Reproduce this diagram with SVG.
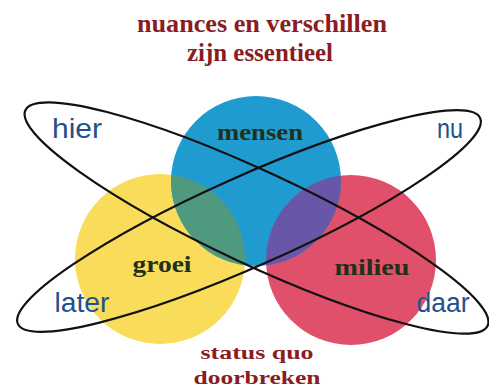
<svg xmlns="http://www.w3.org/2000/svg" width="489" height="388" viewBox="0 0 489 388">
<style>
.title{font-family:"Liberation Serif",serif;font-weight:bold;font-size:25px;fill:#8a1c22;text-anchor:middle}
.sub{font-family:"Liberation Serif",serif;font-weight:bold;font-size:19px;fill:#8a1c22;text-anchor:middle}
.clabel{font-family:"Liberation Serif",serif;font-weight:bold;font-size:24px;fill:#22301a;text-anchor:middle}
.llabel{font-family:"Liberation Sans",sans-serif;font-size:27px;fill:#23508c;text-anchor:middle}
.loop{fill:none;stroke:#111;stroke-width:2.2}
</style>
<defs>
<clipPath id="clipYellow"><circle cx="160" cy="259" r="85"/></clipPath>
<clipPath id="clipRed"><circle cx="351" cy="260" r="85"/></clipPath>
</defs>
<rect width="489" height="388" fill="#ffffff"/>
<g id="title">
<text class="title" x="262" y="32" textLength="250" lengthAdjust="spacingAndGlyphs">nuances en verschillen</text>
<text class="title" x="260" y="61" textLength="146" lengthAdjust="spacingAndGlyphs">zijn essentieel</text>
</g>
<g id="groei">
<circle cx="160" cy="259" r="85" fill="#f8dc5a"/>
</g>
<g id="milieu">
<circle cx="351" cy="260" r="85" fill="#e1506a"/>
</g>
<g id="mensen">
<circle cx="256" cy="181" r="85" fill="#1f9bd0"/>
<circle cx="256" cy="181" r="85" fill="#4f9a7e" clip-path="url(#clipYellow)"/>
<circle cx="256" cy="181" r="85" fill="#6a56a8" clip-path="url(#clipRed)"/>
</g>
<g id="connectors">
<ellipse id="loop-hier-daar" class="loop" cx="256.5" cy="218" rx="255" ry="46.5" transform="rotate(25 256.5 218)"/>
<ellipse id="loop-later-nu" class="loop" cx="249" cy="221" rx="253" ry="45" transform="rotate(-24 249 221)"/>
</g>
<g id="labels">
<text class="clabel" x="260" y="140" textLength="86" lengthAdjust="spacingAndGlyphs">mensen</text>
<text class="clabel" x="162" y="272" textLength="59" lengthAdjust="spacingAndGlyphs">groei</text>
<text class="clabel" x="372" y="275" textLength="75" lengthAdjust="spacingAndGlyphs">milieu</text>
<text class="llabel" x="77" y="138" textLength="50" lengthAdjust="spacingAndGlyphs">hier</text>
<text class="llabel" x="450" y="138" textLength="26" lengthAdjust="spacingAndGlyphs">nu</text>
<text class="llabel" x="82" y="312" textLength="55" lengthAdjust="spacingAndGlyphs">later</text>
<text class="llabel" x="443" y="312" textLength="53" lengthAdjust="spacingAndGlyphs">daar</text>
</g>
<g id="bottom">
<text class="sub" x="257" y="359" textLength="113" lengthAdjust="spacingAndGlyphs">status quo</text>
<text class="sub" x="257" y="384" textLength="127" lengthAdjust="spacingAndGlyphs">doorbreken</text>
</g>
</svg>
